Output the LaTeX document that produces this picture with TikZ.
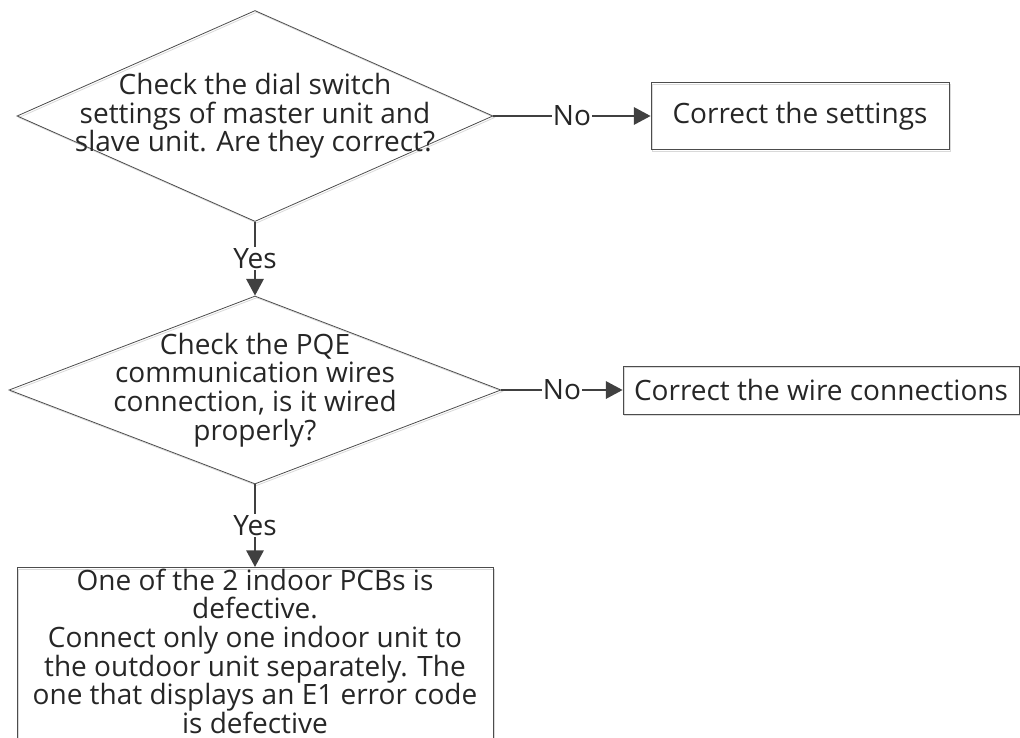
\documentclass[tikz,border=0pt]{standalone}
\usepackage{fontspec}
\setmainfont{Open Sans}
\usetikzlibrary{shapes.geometric,arrows.meta}

\begin{document}
\begin{tikzpicture}[x=0.75pt, y=-0.75pt,
    txt/.style={align=center, font=\fontsize{21}{21.5}\selectfont, text=black!85},
    decision/.style={diamond, draw=black!70, line width=0.6pt, inner sep=0pt,
        preaction={draw=black!15, transform canvas={xshift=1.2pt, yshift=-1.2pt}}},
    box/.style={rectangle, draw=black!70, line width=0.6pt, inner xsep=0pt, inner ysep=1pt, txt,
        preaction={draw=black!15, transform canvas={xshift=1.2pt, yshift=-1.2pt}}},
    flow/.style={draw=black!75, line width=1.5pt, -{Triangle[length=12.5pt, width=13pt]}},
    answer/.style={txt, fill=white, inner sep=1pt}]

    \useasboundingbox (0,0) rectangle (1020,738);

    \node[decision, minimum width=357pt, minimum height=158.25pt] (dial) at (255,116) {};
    \node[txt] (dialtext) at (dial) {Check the dial switch\\settings of master unit and\\slave unit. Are they correct?};
    \node[box, minimum width=223.5pt, minimum height=50.25pt] (settings) at (800,116) {Correct the settings};

    \node[decision, minimum width=369pt, minimum height=141pt] (pqe) at (255,390) {};
    \node[txt] (pqetext) at (pqe) {Check the PQE\\communication wires\\connection, is it wired\\properly?};
    \node[box, minimum width=297pt, minimum height=36pt] (wires) at (821,390) {Correct the wire connections};

    \node[box, anchor=north, minimum width=357pt, minimum height=142pt] (pcb) at (255,567) {};
    \node[txt, anchor=north, inner ysep=1pt] (pcbtext) at (pcb.north) {One of the 2 indoor PCBs is\\defective.\\Connect only one indoor unit to\\the outdoor unit separately. The\\one that displays an E1 error code\\is defective};

    \draw[flow] (dial.east) -- node[answer] {No} (settings.west);
    \draw[flow] (dial.south) -- node[answer] {Yes} (pqe.north);
    \draw[flow] (pqe.east) -- node[answer] {No} (wires.west);
    \draw[flow] (pqe.south) -- node[answer] {Yes} (pcb.north);
\end{tikzpicture}
\end{document}
